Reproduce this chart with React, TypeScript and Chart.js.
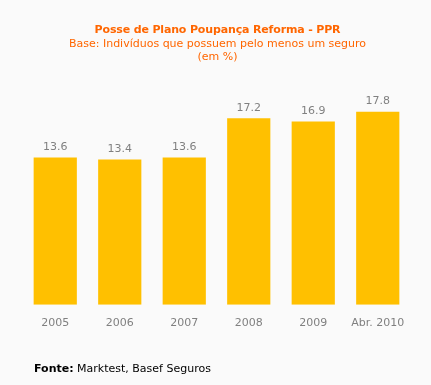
import React, { useEffect, useRef } from "react";
import { Chart, registerables } from "chart.js";

Chart.register(...registerables);

const categories = ["2005", "2006", "2007", "2008", "2009", "Abr. 2010"];
const values = [13.6, 13.4, 13.6, 17.2, 16.9, 17.8];

const titleText = "Posse de Plano Poupança Reforma - PPR";
const subtitleLines = ["Base: Indivíduos que possuem pelo menos um seguro", "(em %)"];

const FONT = "'DejaVu Sans', Verdana, sans-serif";

const valueLabels = {
  id: "valueLabels",
  afterDatasetsDraw(chart: any) {
    const ctx = chart.ctx;
    const meta = chart.getDatasetMeta(0);
    ctx.save();
    ctx.font = `11px ${FONT}`;
    ctx.fillStyle = "#808080";
    ctx.textAlign = "center";
    ctx.textBaseline = "alphabetic";
    meta.data.forEach((bar: any, i: number) => {
      ctx.fillText(values[i].toFixed(1), bar.x, bar.y - 7.5);
    });
    ctx.restore();
  },
};

export default function App() {
  const ref = useRef<HTMLCanvasElement>(null);
  useEffect(() => {
    if (!ref.current) return;
    const chart = new Chart(ref.current, {
      type: "bar",
      data: {
        labels: categories,
        datasets: [
          {
            data: values,
            backgroundColor: "#FFC000",
            borderWidth: 0,
            barPercentage: 0.67,
            categoryPercentage: 1,
          },
        ],
      },
      options: {
        responsive: false,
        animation: false,
        devicePixelRatio: 1,
        layout: { padding: { left: 23, right: 21, top: 88, bottom: 43 } },
        plugins: {
          legend: { display: false },
          tooltip: { enabled: false },
          title: { display: false },
        },
        scales: {
          x: {
            grid: { display: false, drawTicks: false },
            border: { display: false },
            ticks: {
              color: "#808080",
              font: { family: FONT, size: 11 },
              padding: 12,
              maxRotation: 0,
            },
          },
          y: {
            display: false,
            min: 0,
            max: 20,
          },
        },
      },
      plugins: [valueLabels],
    });
    return () => chart.destroy();
  }, []);

  const textBase: React.CSSProperties = {
    position: "absolute",
    left: 2,
    width: 431,
    textAlign: "center",
    fontFamily: FONT,
    fontSize: 11,
    lineHeight: "13px",
    color: "#FF6600",
    whiteSpace: "nowrap",
  };

  return (
    <div
      style={{
        position: "absolute",
        left: 0,
        top: 0,
        width: 431,
        height: 385,
        background: "#FAFAFA",
        overflow: "hidden",
      }}
    >
      <canvas ref={ref} width={431} height={385} style={{ position: "absolute", left: 0, top: 0 }} />
      <div style={{ ...textBase, top: 23, fontWeight: "bold", letterSpacing: "-0.15px" }}>{titleText}</div>
      <div style={{ ...textBase, top: 37 }}>{subtitleLines[0]}</div>
      <div style={{ ...textBase, top: 50 }}>{subtitleLines[1]}</div>
      <div
        style={{
          position: "absolute",
          left: 34,
          top: 362,
          fontFamily: FONT,
          fontSize: 11,
          lineHeight: "13px",
          color: "#000",
          whiteSpace: "nowrap",
        }}
      >
        <b>Fonte:</b> Marktest, Basef Seguros
      </div>
    </div>
  );
}
